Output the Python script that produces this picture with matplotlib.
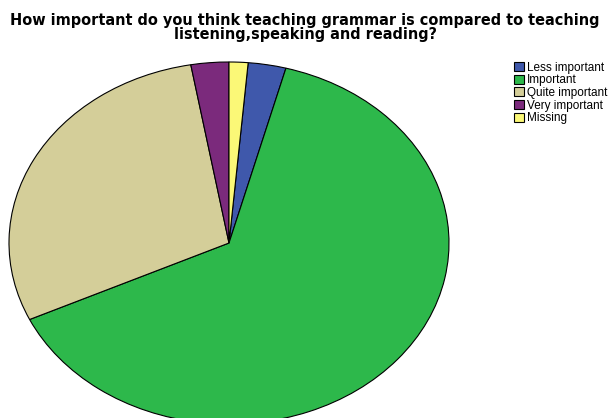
import matplotlib.pyplot as plt

# answers (count of respondents), in legend order
labels = ['Less important', 'Important', 'Quite important', 'Very important', 'Missing']
counts = [2, 46, 21, 2, 1]
colours = ['#3F58AB', '#2DB84B', '#D4CE99', '#7B2A7C', '#FBF877']

title_lines = ['How important do you think teaching grammar is compared to teaching',
               'listening,speaking and reading?']

plt.rcParams['font.family'] = ['Liberation Sans', 'DejaVu Sans']

fig = plt.figure(figsize=(6.1, 4.18), dpi=100)
# pie box: x 9..449 px, y 62..424 px (bottom runs off the figure)
ax = fig.add_axes([9 / 610, -6 / 418, 440 / 610, 362 / 418])

wedges, _ = ax.pie(counts, colors=colours, startangle=85, counterclock=False,
                   wedgeprops=dict(edgecolor='black', linewidth=0.8))
ax.set_aspect('auto')
ax.set_xlim(-1, 1)
ax.set_ylim(-1, 1)
for w in wedges:
    w.set_clip_on(False)

# title, two lines placed by baseline (wide bold face like the original)
for line, yb in zip(title_lines, [25, 39.5]):
    fig.text(0.5, 1 - yb / 418, line, ha='center', va='baseline',
             fontsize=10.45, fontweight='bold', family='DejaVu Sans')

fig.legend(wedges, labels, loc='upper left', bbox_to_anchor=(0.843, 0.852),
           frameon=False, fontsize=8.5, handlelength=0.85, handleheight=0.8,
           handletextpad=0.2, labelspacing=0.05, borderaxespad=0, borderpad=0)

fig.savefig('out.png', dpi=100)
